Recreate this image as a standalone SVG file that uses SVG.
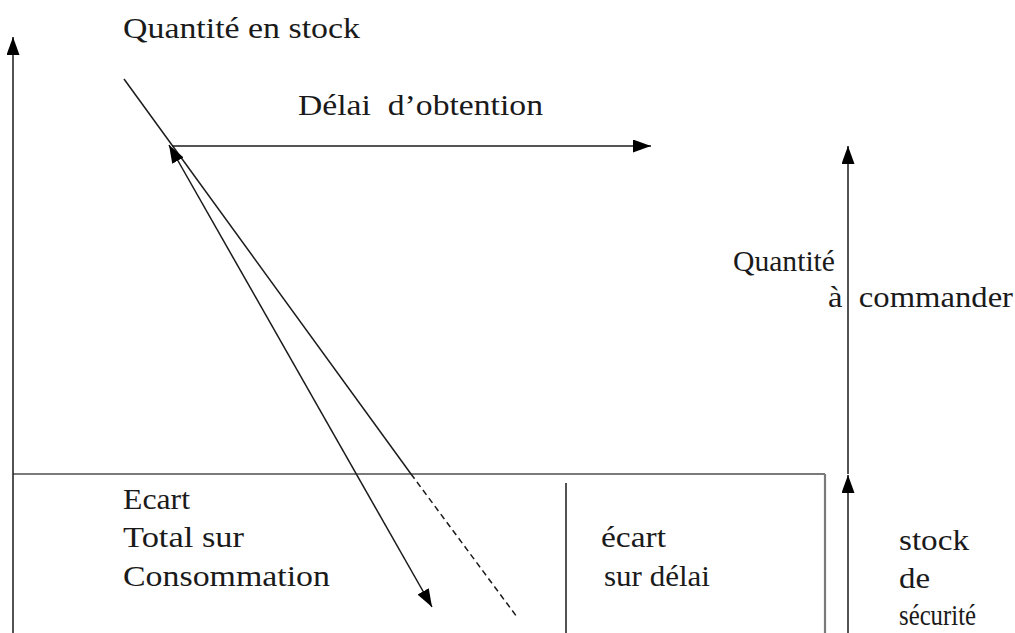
<svg xmlns="http://www.w3.org/2000/svg" width="1015" height="633" viewBox="0 0 1015 633">
<style>
.t{font-family:"Liberation Serif","DejaVu Serif","Noto Serif",serif;font-size:30px;fill:#1a1a1a}
.ln{stroke:#1a1a1a;stroke-width:1.5;fill:none}
.box{stroke:#7a7a7a;stroke-width:2.2;fill:none}
.gray{stroke:#555;stroke-width:2;fill:none}
</style>
<defs>
<marker id="ah" viewBox="0 0 18 13" markerWidth="18" markerHeight="13" refX="18" refY="6.5" orient="auto-start-reverse" markerUnits="userSpaceOnUse">
<path d="M0,0 L18,6.5 L0,13 z" fill="#000"/>
</marker>
</defs>
<rect width="1015" height="633" fill="#fff"/>
<g id="frame">
<line class="box" x1="13" y1="474" x2="825" y2="474"/>
<line class="box" x1="825" y1="474" x2="825" y2="633"/>
<line class="ln" x1="566" y1="483" x2="566" y2="633"/>
</g>
<g id="connectors">
<line class="ln" x1="13" y1="633" x2="13" y2="37" marker-end="url(#ah)"/>
<line class="gray" x1="172" y1="146" x2="651" y2="146" marker-end="url(#ah)"/>
<line class="ln" x1="124" y1="79" x2="411" y2="474"/>
<line class="ln" x1="411" y1="474" x2="517" y2="617" stroke-dasharray="6,4"/>
<line class="ln" x1="169" y1="145" x2="432" y2="607" marker-start="url(#ah)" marker-end="url(#ah)"/>
<line class="ln" x1="848" y1="474" x2="848" y2="146" marker-end="url(#ah)"/>
<line class="ln" x1="848" y1="633" x2="848" y2="475" marker-end="url(#ah)"/>
</g>
<g id="label-quantite-stock"><text class="t" x="123" y="38" textLength="237" lengthAdjust="spacingAndGlyphs">Quantité en stock</text></g>
<g id="label-delai"><text class="t" x="298" y="115" textLength="245" lengthAdjust="spacingAndGlyphs" xml:space="preserve">Délai  d’obtention</text></g>
<g id="label-quantite-commander">
<text class="t" x="733" y="271" textLength="102" lengthAdjust="spacingAndGlyphs">Quantité</text>
<text class="t" x="828" y="307" textLength="185" lengthAdjust="spacingAndGlyphs" xml:space="preserve">à  commander</text>
</g>
<g id="label-ecart-total">
<text class="t" x="123" y="509" textLength="67" lengthAdjust="spacingAndGlyphs">Ecart</text>
<text class="t" x="123" y="547" textLength="121" lengthAdjust="spacingAndGlyphs">Total sur</text>
<text class="t" x="123" y="586" textLength="207" lengthAdjust="spacingAndGlyphs">Consommation</text>
</g>
<g id="label-ecart-delai">
<text class="t" x="601" y="547" textLength="65" lengthAdjust="spacingAndGlyphs">écart</text>
<text class="t" x="604" y="586" textLength="106" lengthAdjust="spacingAndGlyphs">sur délai</text>
</g>
<g id="label-stock-securite">
<text class="t" x="899" y="550" textLength="70" lengthAdjust="spacingAndGlyphs">stock</text>
<text class="t" x="899" y="588" textLength="31" lengthAdjust="spacingAndGlyphs">de</text>
<text class="t" x="899" y="625" textLength="77" lengthAdjust="spacingAndGlyphs">sécurité</text>
</g>
</svg>
